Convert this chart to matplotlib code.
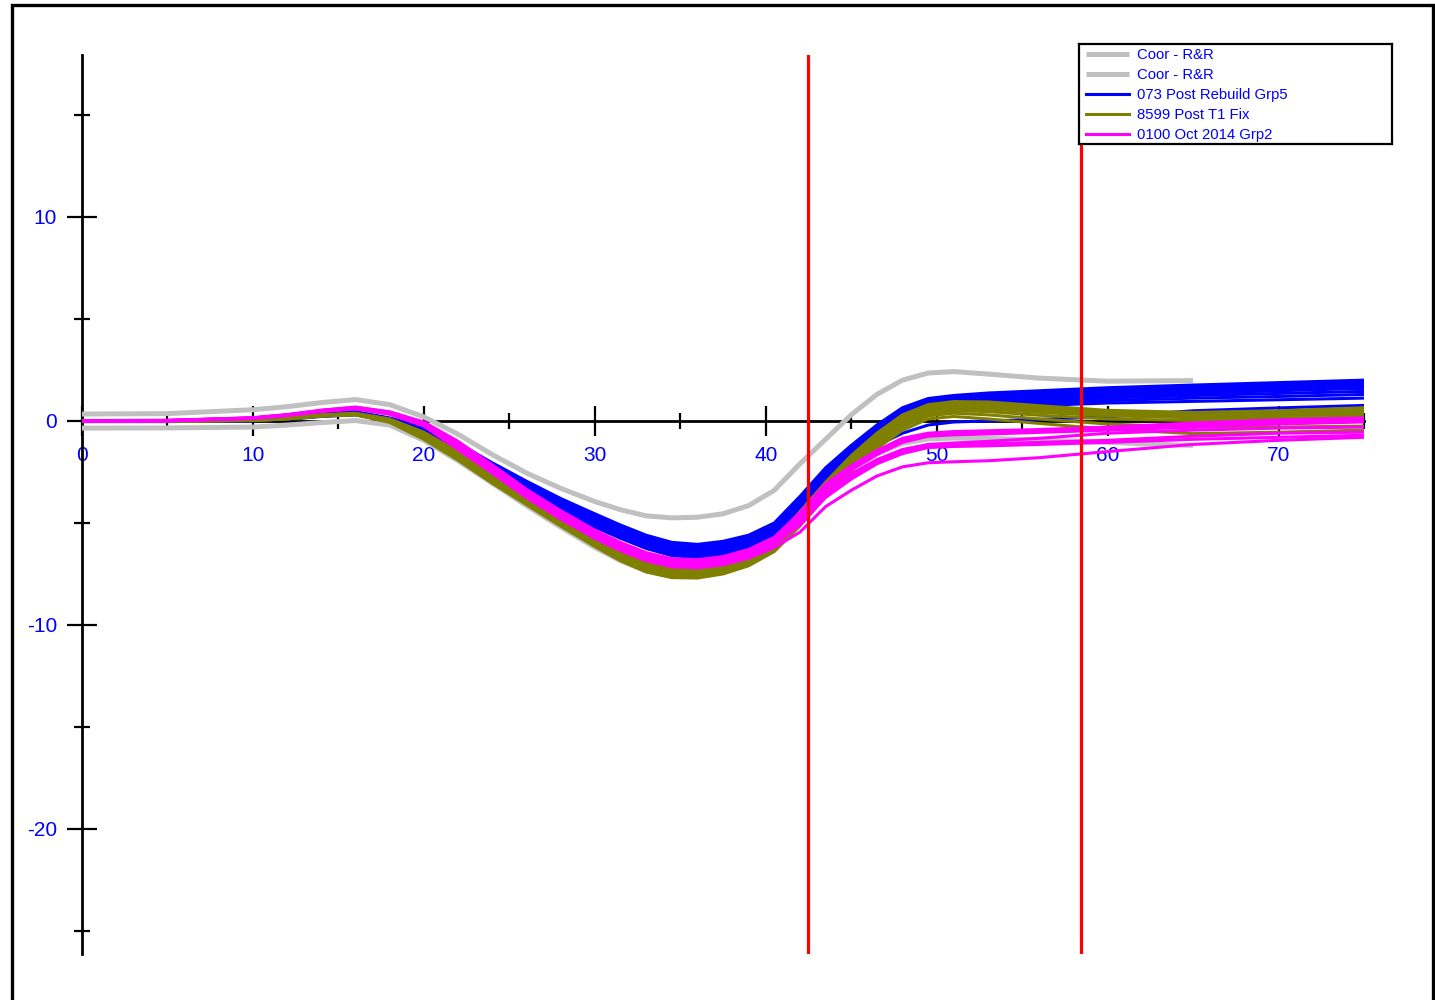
import matplotlib
matplotlib.use("Agg")
import matplotlib.pyplot as plt
from matplotlib.ticker import MultipleLocator
from matplotlib.patches import Rectangle

plt.rcParams['font.family'] = ['Liberation Sans', 'DejaVu Sans']

# Shared sample positions (distance); denser through the dip and the recovery
x = [0, 5, 10, 12, 14, 16, 18, 20, 22, 24, 26, 28, 30, 31.5, 33, 34.5, 36, 37.5,
     39, 40.5, 42, 43.5, 45, 46.5, 48, 49.5, 51, 53, 56, 60, 65, 70, 75]
x_ref = x[:31]  # reference runs stop at 65

# Coor - R&R reference traces
coor_upper = [0.34, 0.36, 0.55, 0.7, 0.9, 1.05, 0.8, 0.2, -0.65, -1.65, -2.55, -3.3, -3.95,
              -4.35, -4.65, -4.75, -4.72, -4.55, -4.15, -3.4, -2.1, -0.9, 0.3, 1.3, 2.0,
              2.35, 2.42, 2.3, 2.1, 1.95, 1.98]
coor_lower = [-0.35, -0.34, -0.3, -0.2, -0.08, 0.02, -0.2, -0.95, -1.95, -3.05, -4.15, -5.2,
              -6.2, -6.85, -7.35, -7.6, -7.6, -7.4, -7.0, -6.3, -5.0, -3.6, -2.5, -1.6, -1.1,
              -0.88, -0.84, -0.86, -0.92, -1.05, -1.2]

# 073 Post Rebuild Grp5
grp5 = [
    [0.02, 0.02, 0.08, 0.18, 0.35, 0.45, 0.15, -0.3, -1.1, -2.05, -2.95, -3.8, -4.55, -5.1, -5.6,
     -5.95, -6.05, -5.9, -5.6, -5.0, -3.7, -2.3, -1.2, -0.2, 0.65, 1.1, 1.25, 1.37, 1.48, 1.63,
     1.76, 1.88, 2.0],
    [0.0, 0.0, 0.06, 0.16, 0.33, 0.43, 0.12, -0.35, -1.16, -2.12, -3.02, -3.87, -4.62, -5.17,
     -5.67, -6.02, -6.12, -5.97, -5.67, -5.08, -3.8, -2.4, -1.3, -0.3, 0.55, 1.0, 1.15, 1.27,
     1.38, 1.53, 1.66, 1.78, 1.9],
    [0.0, 0.0, 0.05, 0.15, 0.31, 0.41, 0.1, -0.4, -1.23, -2.2, -3.1, -3.95, -4.7, -5.25, -5.75,
     -6.1, -6.2, -6.05, -5.75, -5.16, -3.9, -2.5, -1.4, -0.4, 0.45, 0.9, 1.05, 1.17, 1.28, 1.43,
     1.56, 1.68, 1.8],
    [-0.02, -0.02, 0.03, 0.13, 0.29, 0.39, 0.08, -0.44, -1.3, -2.28, -3.18, -4.03, -4.78, -5.33,
     -5.83, -6.18, -6.28, -6.13, -5.83, -5.24, -4.0, -2.6, -1.5, -0.5, 0.35, 0.8, 0.95, 1.07,
     1.18, 1.33, 1.46, 1.58, 1.7],
    [0.0, 0.0, 0.05, 0.14, 0.29, 0.38, 0.06, -0.48, -1.37, -2.35, -3.25, -4.1, -4.85, -5.4, -5.9,
     -6.25, -6.35, -6.2, -5.9, -5.32, -4.1, -2.7, -1.6, -0.6, 0.25, 0.7, 0.85, 0.97, 1.08, 1.23,
     1.36, 1.48, 1.6],
    [0.01, 0.01, 0.04, 0.12, 0.27, 0.36, 0.04, -0.52, -1.44, -2.42, -3.32, -4.17, -4.92, -5.47,
     -5.97, -6.32, -6.42, -6.27, -5.97, -5.4, -4.2, -2.8, -1.68, -0.7, 0.15, 0.6, 0.75, 0.87,
     0.98, 1.12, 1.25, 1.35, 1.45],
    [-0.01, -0.01, 0.02, 0.1, 0.25, 0.34, 0.02, -0.56, -1.5, -2.5, -3.4, -4.25, -5.0, -5.55,
     -6.05, -6.4, -6.5, -6.35, -6.05, -5.48, -4.3, -2.9, -1.76, -0.8, 0.05, 0.5, 0.65, 0.77,
     0.88, 1.0, 1.12, 1.2, 1.3],
    [0.0, 0.0, 0.03, 0.1, 0.24, 0.32, 0.0, -0.6, -1.57, -2.58, -3.5, -4.35, -5.1, -5.65, -6.15,
     -6.5, -6.6, -6.45, -6.15, -5.58, -4.4, -3.0, -1.85, -0.95, -0.1, 0.4, 0.54, 0.65, 0.76,
     0.88, 0.96, 1.04, 1.12],
    [-0.03, -0.03, 0.0, 0.08, 0.22, 0.3, -0.03, -0.65, -1.64, -2.65, -3.6, -4.45, -5.2, -5.75,
     -6.25, -6.6, -6.7, -6.55, -6.25, -5.7, -4.55, -3.2, -2.1, -1.2, -0.6, -0.2, -0.05, 0.0,
     0.08, 0.2, 0.5, 0.64, 0.76],
]

# 8599 Post T1 Fix
t1fix = [
    [0.01, 0.01, 0.05, 0.14, 0.3, 0.38, 0.1, -0.55, -1.5, -2.55, -3.6, -4.65, -5.65, -6.35, -6.9,
     -7.18, -7.2, -7.0, -6.6, -5.9, -4.45, -3.0, -1.7, -0.6, 0.3, 0.8, 0.95, 0.93, 0.75, 0.52,
     0.42, 0.5, 0.65],
    [-0.01, -0.01, 0.04, 0.13, 0.29, 0.36, 0.07, -0.6, -1.56, -2.62, -3.67, -4.72, -5.72, -6.42,
     -6.97, -7.25, -7.27, -7.07, -6.67, -5.97, -4.55, -3.1, -1.8, -0.7, 0.2, 0.7, 0.85, 0.85,
     0.68, 0.48, 0.38, 0.43, 0.52],
    [0.0, 0.0, 0.03, 0.12, 0.27, 0.34, 0.05, -0.65, -1.62, -2.69, -3.74, -4.79, -5.79, -6.49,
     -7.04, -7.32, -7.34, -7.14, -6.74, -6.04, -4.65, -3.2, -1.9, -0.8, 0.1, 0.62, 0.77, 0.77,
     0.6, 0.42, 0.33, 0.36, 0.43],
    [0.02, 0.02, 0.05, 0.13, 0.28, 0.35, 0.03, -0.7, -1.68, -2.76, -3.81, -4.86, -5.86, -6.56,
     -7.11, -7.39, -7.41, -7.21, -6.81, -6.11, -4.75, -3.3, -2.0, -0.9, 0.0, 0.54, 0.69, 0.69,
     0.52, 0.35, 0.26, 0.27, 0.32],
    [-0.02, -0.02, 0.02, 0.1, 0.24, 0.31, 0.0, -0.75, -1.74, -2.83, -3.88, -4.93, -5.93, -6.63,
     -7.18, -7.46, -7.48, -7.28, -6.88, -6.18, -4.85, -3.4, -2.1, -1.0, -0.1, 0.45, 0.6, 0.58,
     0.42, 0.25, 0.16, 0.15, 0.18],
    [0.0, 0.0, 0.03, 0.11, 0.26, 0.32, -0.02, -0.8, -1.8, -2.9, -3.95, -5.0, -6.0, -6.7, -7.25,
     -7.53, -7.55, -7.35, -6.95, -6.25, -4.95, -3.5, -2.2, -1.1, -0.2, 0.35, 0.5, 0.46, 0.28,
     0.1, 0.02, 0.02, 0.05],
    [0.01, 0.01, 0.04, 0.12, 0.27, 0.33, -0.05, -0.85, -1.86, -2.97, -4.02, -5.07, -6.07, -6.77,
     -7.32, -7.6, -7.62, -7.42, -7.02, -6.32, -5.05, -3.6, -2.3, -1.2, -0.3, 0.25, 0.38, 0.3,
     0.1, -0.15, -0.3, -0.3, -0.25],
    [-0.01, -0.01, 0.02, 0.1, 0.24, 0.3, -0.07, -0.9, -1.92, -3.05, -4.1, -5.15, -6.15, -6.85,
     -7.4, -7.68, -7.7, -7.5, -7.1, -6.4, -5.15, -3.7, -2.45, -1.35, -0.45, 0.1, 0.22, 0.1,
     -0.12, -0.4, -0.62, -0.55, -0.45],
]

# 0100 Oct 2014 Grp2
grp2 = [
    [0.0, 0.02, 0.15, 0.3, 0.52, 0.68, 0.45, -0.05, -1.0, -2.15, -3.35, -4.4, -5.35, -5.95, -6.45,
     -6.75, -6.8, -6.65, -6.3, -5.7, -4.5, -3.1, -2.2, -1.45, -0.85, -0.6, -0.52, -0.48, -0.42,
     -0.3, -0.1, 0.05, 0.15],
    [0.02, 0.03, 0.16, 0.31, 0.53, 0.67, 0.43, -0.08, -1.06, -2.21, -3.41, -4.46, -5.41, -6.01,
     -6.51, -6.81, -6.86, -6.71, -6.36, -5.76, -4.6, -3.2, -2.3, -1.55, -0.95, -0.65, -0.58,
     -0.54, -0.48, -0.4, -0.2, -0.05, 0.05],
    [-0.01, 0.01, 0.14, 0.29, 0.5, 0.65, 0.41, -0.11, -1.12, -2.27, -3.47, -4.52, -5.47, -6.07,
     -6.57, -6.87, -6.92, -6.77, -6.42, -5.82, -4.7, -3.3, -2.4, -1.65, -1.05, -0.75, -0.68,
     -0.64, -0.56, -0.45, -0.3, -0.15, -0.05],
    [0.01, 0.02, 0.15, 0.3, 0.5, 0.64, 0.39, -0.14, -1.18, -2.33, -3.53, -4.58, -5.53, -6.13,
     -6.63, -6.93, -6.98, -6.83, -6.48, -5.88, -4.85, -3.5, -2.6, -1.9, -1.4, -1.15, -1.08,
     -1.0, -0.85, -0.6, -0.45, -0.35, -0.3],
    [0.0, 0.01, 0.13, 0.28, 0.48, 0.62, 0.37, -0.17, -1.24, -2.39, -3.59, -4.64, -5.59, -6.19,
     -6.69, -6.99, -7.04, -6.89, -6.54, -5.95, -5.0, -3.65, -2.75, -2.0, -1.5, -1.25, -1.18,
     -1.12, -1.05, -0.95, -0.75, -0.6, -0.55],
    [0.02, 0.03, 0.14, 0.28, 0.48, 0.61, 0.35, -0.2, -1.3, -2.45, -3.65, -4.7, -5.65, -6.25,
     -6.75, -7.05, -7.1, -6.95, -6.6, -6.02, -5.1, -3.75, -2.85, -2.1, -1.6, -1.3, -1.25, -1.22,
     -1.15, -1.05, -0.9, -0.8, -0.7],
    [-0.02, 0.0, 0.12, 0.26, 0.46, 0.59, 0.33, -0.25, -1.4, -2.55, -3.75, -4.8, -5.75, -6.35,
     -6.85, -7.15, -7.2, -7.05, -6.72, -6.2, -5.45, -4.2, -3.4, -2.7, -2.25, -2.05, -2.0, -1.95,
     -1.8, -1.5, -1.15, -0.95, -0.8],
]

# Window limits
cursor_positions = [42.45, 58.45]

legend_labels = ["Coor - R&R", "Coor - R&R", "073 Post Rebuild Grp5",
                 "8599 Post T1 Fix", "0100 Oct 2014 Grp2"]
x_ticks = [0, 10, 20, 30, 40, 50, 60, 70]
y_ticks = [-20, -10, 0, 10]

C_GRAY = "#c0c0c0"
C_BLUE = "#0000ff"
C_OLIVE = "#808000"
C_MAGENTA = "#ff00ff"
C_TEXT = "#0000ff"

W, H = 1435, 1000
fig = plt.figure(figsize=(W / 100, H / 100), dpi=100)
fig.patch.set_facecolor("white")

# outer frame
fig.patches.append(Rectangle((12 / W, -0.02), (1433 - 12) / W, 0.995 + 0.02,
                             transform=fig.transFigure, fill=False,
                             edgecolor="black", linewidth=2.4, zorder=1))

ax_rect = [82 / W, (H - 954) / H, (1364 - 82) / W, (954 - 55) / H]
ax = fig.add_axes(ax_rect)
ax.set_xlim(0, 75)
ax.set_ylim(-26.13, 17.94)
ax.set_facecolor("none")

h_g1, = ax.plot(x_ref, coor_upper, color=C_GRAY, lw=3.6, solid_capstyle="butt", zorder=2)
h_g2, = ax.plot(x_ref, coor_lower, color=C_GRAY, lw=3.6, solid_capstyle="butt", zorder=2)
h_b = h_o = h_m = None
for y in grp5:
    h_b, = ax.plot(x, y, color=C_BLUE, lw=2.2, zorder=2.1)
for y in t1fix:
    h_o, = ax.plot(x, y, color=C_OLIVE, lw=2.2, zorder=2.2)
for y in grp2:
    h_m, = ax.plot(x, y, color=C_MAGENTA, lw=2.2, zorder=2.3)

# legend panel placement (figure fraction)
leg_rect = [1079 / W, 1 - 144 / H, (1392 - 1079) / W, 100 / H]

# cursor lines stop at the legend panel when they run beneath it
for cx in cursor_positions:
    fx = ax_rect[0] + ax_rect[2] * cx / 75.0
    top = 1.0
    if leg_rect[0] <= fx <= leg_rect[0] + leg_rect[2]:
        top = (leg_rect[1] - ax_rect[1]) / ax_rect[3]
    ax.axvline(cx, ymin=0, ymax=top, color="red", lw=2.3, zorder=3)

# axes drawn through the origin
for s in ("top", "right"):
    ax.spines[s].set_visible(False)
ax.spines["left"].set_position(("data", 0))
ax.spines["bottom"].set_position(("data", 0))
for s in ("left", "bottom"):
    ax.spines[s].set_linewidth(2.0)
    ax.spines[s].set_zorder(1)
ax.set_axisbelow(True)

ax.xaxis.set_major_locator(MultipleLocator(10))
ax.xaxis.set_minor_locator(MultipleLocator(5))
ax.yaxis.set_major_locator(MultipleLocator(10))
ax.yaxis.set_minor_locator(MultipleLocator(5))
ax.set_xticks(x_ticks)
ax.set_yticks(y_ticks)
ax.set_xticklabels([str(v) for v in x_ticks])
ax.set_yticklabels([str(v) for v in y_ticks])
ax.tick_params(which="major", direction="inout", length=22, width=1.6,
               labelsize=15, labelcolor=C_TEXT, pad=7)
ax.tick_params(which="minor", direction="inout", length=11, width=1.6)

# legend panel: its own white-backed axes
lax = fig.add_axes(leg_rect)
lax.set_zorder(5)
lax.set_facecolor("white")
lax.set_xticks([])
lax.set_yticks([])
for s in lax.spines.values():
    s.set_linewidth(1.6)
    s.set_edgecolor("black")
leg = lax.legend([h_g1, h_g2, h_b, h_o, h_m], legend_labels,
                 loc="upper left", bbox_to_anchor=(1086 / W, 1 - 48 / H),
                 bbox_transform=fig.transFigure,
                 frameon=False, fontsize=10.7, labelcolor=C_TEXT,
                 handlelength=2.9, handletextpad=0.5, labelspacing=0.4,
                 borderpad=0, borderaxespad=0)

fig.savefig("out.png", dpi=100)
